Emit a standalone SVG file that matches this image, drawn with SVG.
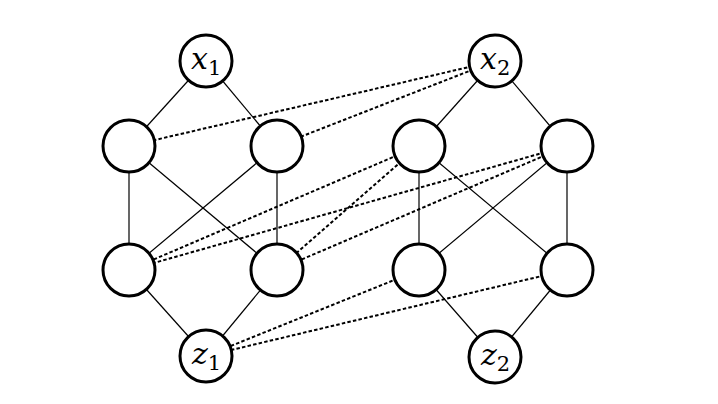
<svg xmlns="http://www.w3.org/2000/svg" width="718" height="404" viewBox="0 0 718 404">
<style>
.n{fill:#fff;stroke:#000;stroke-width:3}
.s{stroke:#000;stroke-width:1.2;fill:none}
.d{stroke:#000;stroke-width:2;stroke-dasharray:3.5 2.2;fill:none}
.v{font-family:"DejaVu Serif","Liberation Serif",serif;font-style:italic;font-size:30px}
.sub{font-family:"DejaVu Serif","Liberation Serif",serif;font-size:21px;font-style:normal}
</style>
<rect width="718" height="404" fill="#fff"/>
<g id="connectors">
<line class="s" x1="206" y1="61" x2="129" y2="146"/>
<line class="s" x1="206" y1="61" x2="277" y2="146"/>
<line class="s" x1="129" y1="146" x2="129" y2="270"/>
<line class="s" x1="129" y1="146" x2="277" y2="270"/>
<line class="s" x1="277" y1="146" x2="129" y2="270"/>
<line class="s" x1="277" y1="146" x2="277" y2="270"/>
<line class="s" x1="129" y1="270" x2="206" y2="356"/>
<line class="s" x1="277" y1="270" x2="206" y2="356"/>
<line class="s" x1="495" y1="61" x2="419" y2="146"/>
<line class="s" x1="495" y1="61" x2="567" y2="146"/>
<line class="s" x1="419" y1="146" x2="419" y2="270"/>
<line class="s" x1="419" y1="146" x2="567" y2="270"/>
<line class="s" x1="567" y1="146" x2="419" y2="270"/>
<line class="s" x1="567" y1="146" x2="567" y2="270"/>
<line class="s" x1="419" y1="270" x2="495" y2="357"/>
<line class="s" x1="567" y1="270" x2="495" y2="357"/>
<line class="d" x1="495" y1="61" x2="129" y2="146"/>
<line class="d" x1="495" y1="61" x2="277" y2="146"/>
<line class="d" x1="419" y1="146" x2="129" y2="270"/>
<line class="d" x1="419" y1="146" x2="277" y2="270"/>
<line class="d" x1="567" y1="146" x2="129" y2="270"/>
<line class="d" x1="567" y1="146" x2="277" y2="270"/>
<line class="d" x1="419" y1="270" x2="206" y2="356"/>
<line class="d" x1="567" y1="270" x2="206" y2="356"/>
</g>
<g id="x1"><circle class="n" cx="206" cy="61" r="26"/><text class="v" x="191" y="69">x<tspan class="sub" dy="6">1</tspan></text></g>
<g id="x2"><circle class="n" cx="495" cy="61" r="26"/><text class="v" x="480" y="69">x<tspan class="sub" dy="6">2</tspan></text></g>
<g id="a1"><circle class="n" cx="129" cy="146" r="26"/></g>
<g id="a2"><circle class="n" cx="277" cy="146" r="26"/></g>
<g id="a3"><circle class="n" cx="419" cy="146" r="26"/></g>
<g id="a4"><circle class="n" cx="567" cy="146" r="26"/></g>
<g id="b1"><circle class="n" cx="129" cy="270" r="26"/></g>
<g id="b2"><circle class="n" cx="277" cy="270" r="26"/></g>
<g id="b3"><circle class="n" cx="419" cy="270" r="26"/></g>
<g id="b4"><circle class="n" cx="567" cy="270" r="26"/></g>
<g id="z1"><circle class="n" cx="206" cy="356" r="26"/><text class="v" x="192" y="364">z<tspan class="sub" dy="6">1</tspan></text></g>
<g id="z2"><circle class="n" cx="495" cy="357" r="26"/><text class="v" x="481" y="365">z<tspan class="sub" dy="6">2</tspan></text></g>
</svg>
